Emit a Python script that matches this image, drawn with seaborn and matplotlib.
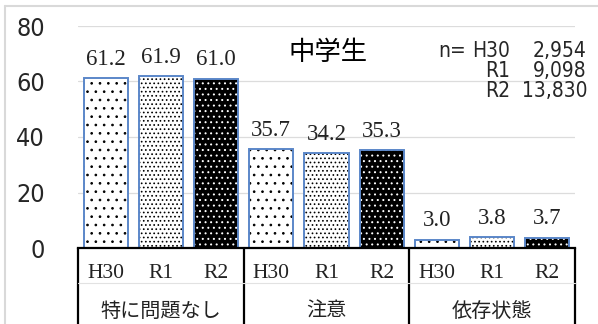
import matplotlib
matplotlib.use("Agg")
import matplotlib.pyplot as plt
import matplotlib.transforms as mtransforms
from matplotlib import font_manager
from matplotlib.lines import Line2D
from matplotlib.patches import Rectangle
import pandas as pd
import seaborn as sns

# ---- data -------------------------------------------------------------
categories = ["特に問題なし", "注意", "依存状態"]
years = ["H30", "R1", "R2"]
h30_values = [61.2, 35.7, 3.0]
r1_values = [61.9, 34.2, 3.8]
r2_values = [61.0, 35.3, 3.7]
sample_sizes = ["2,954", "9,098", "13,830"]
title_text = "中学生"
y_ticks = [0, 20, 40, 60, 80]

series = {"H30": h30_values, "R1": r1_values, "R2": r2_values}

rows = []
for ci, cat in enumerate(categories):
    for yr in years:
        rows.append({"key": f"{cat}|{yr}", "year": yr, "value": series[yr][ci]})
df = pd.DataFrame(rows)
order = list(df["key"])

# ---- style -----------------------------------------------------------
sns.set_theme(style="white")
installed = {f.name for f in font_manager.fontManager.ttflist}
CJK = ["Noto Sans CJK JP", "DejaVu Sans"]
SERIF = ["Liberation Serif", "DejaVu Serif"]
if "Liberation Sans Narrow" in installed:
    NARROW = dict(family="Liberation Sans Narrow")
else:
    NARROW = dict(family="DejaVu Sans", fontstretch="condensed")
plt.rcParams["font.family"] = CJK
plt.rcParams["hatch.linewidth"] = 0.7

face = {"H30": "white", "R1": "white", "R2": "black"}
dot_color = {"H30": "black", "R1": "black", "R2": "white"}
hatch = {"H30": "..", "R1": "....", "R2": "..."}
outline = "#5b87c9"

W, H = 598, 324
fig = plt.figure(figsize=(W / 100, H / 100), dpi=100)
ax = fig.add_axes([78 / W, 76 / H, 497 / W, 222 / H])

sns.barplot(data=df, x="key", y="value", hue="year", order=order,
            hue_order=years, dodge=False, width=0.8, legend=False, ax=ax,
            errorbar=None)

ax.set_xlim(-0.5, len(order) - 0.5)
ax.set_ylim(0, 80)
ax.set_yticks(y_ticks)
ax.set_yticklabels([str(t) for t in y_ticks], fontsize=18, **NARROW)
ax.tick_params(axis="y", length=0, pad=24)
ax.set_xticks([])
ax.set_xlabel("")
ax.set_ylabel("")
ax.yaxis.grid(True, color="#dcdcdc", lw=0.9)
ax.set_axisbelow(True)
for s in ("left", "right", "top"):
    ax.spines[s].set_visible(False)
ax.spines["bottom"].set_color("black")
ax.spines["bottom"].set_linewidth(1.6)
ax.spines["bottom"].set_zorder(5)

# patterned fills with a blue outline drawn on top
for container, yr in zip(ax.containers, years):
    for bar in container:
        bar.set_facecolor(face[yr])
        bar.set_edgecolor(dot_color[yr])
        bar.set_hatch(hatch[yr])
        bar.set_linewidth(0)
        ax.add_patch(Rectangle(bar.get_xy(), bar.get_width(), bar.get_height(),
                               fill=False, edgecolor=outline, lw=1.4,
                               zorder=bar.get_zorder() + 0.1))
    ax.bar_label(container, labels=[f"{v:.1f}" for v in series[yr]],
                 padding=6, fontsize=16.5, family=SERIF, color="#222222")

# two-level category axis
trans = mtransforms.blended_transform_factory(ax.transData, ax.transAxes)
for i, key in enumerate(order):
    ax.text(i, -0.117, key.split("|")[1], transform=trans, ha="center",
            va="center", fontsize=15.5, family=SERIF, color="#222222")
for j, cat in enumerate(categories):
    ax.text(3 * j + 1, -0.284, cat, transform=trans, ha="center",
            va="center", fontsize=14.5, family=CJK, color="#222222")
for xb in [-0.5, 2.5, 5.5, 8.5]:
    ax.add_line(Line2D([xb, xb], [0, -0.4], transform=trans, color="black",
                       lw=1.6, clip_on=False))
ax.add_line(Line2D([-0.5, 8.5], [-0.158, -0.158], transform=trans,
                   color="#e2e2e2", lw=0.8, clip_on=False))

# title and sample sizes
fig.text(328 / W, 1 - 53 / H, title_text, ha="center", va="center",
         fontsize=19, family=CJK, color="black")
row_y = [51, 71, 91]
fig.text(466 / W, 1 - row_y[0] / H, "n=", ha="right", va="center",
         fontsize=15, **NARROW)
for yr, n, yy in zip(years, sample_sizes, row_y):
    fig.text(510 / W, 1 - yy / H, yr, ha="right", va="center",
             fontsize=15, **NARROW)
    fig.text(587 / W, 1 - yy / H, n, ha="right", va="center",
             fontsize=15, **NARROW)

# light frame around the chart
fig.add_artist(Line2D([5 / W, 1], [1 - 6 / H, 1 - 6 / H],
                      transform=fig.transFigure, color="#d9d9d9", lw=1.5))
fig.add_artist(Line2D([5 / W, 5 / W], [0, 1 - 6 / H],
                      transform=fig.transFigure, color="#d9d9d9", lw=1.5))

fig.savefig("out.png", dpi=100)
